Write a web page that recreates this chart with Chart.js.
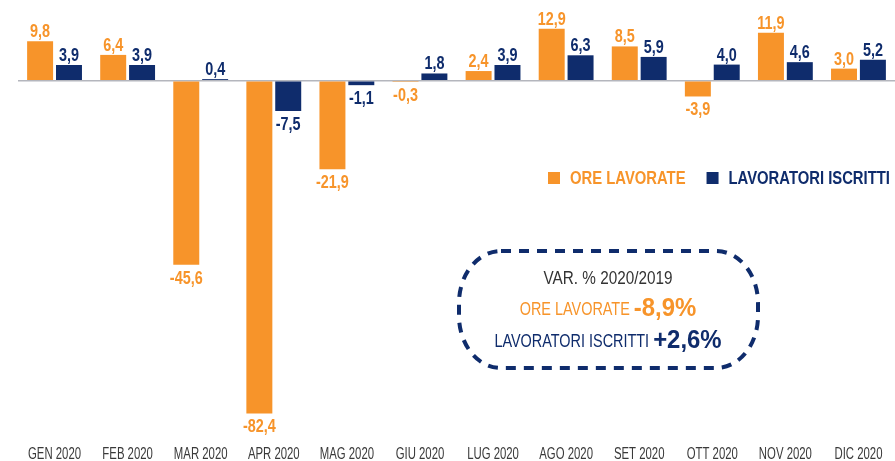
<!DOCTYPE html>
<html>
<head>
<meta charset="utf-8">
<script src="https://cdn.jsdelivr.net/npm/chart.js@4"></script>
<style>
  html, body { margin: 0; padding: 0; background: #fff; }
  #wrap { width: 895px; height: 461px; }
</style>
</head>
<body>
<div id="wrap"><canvas id="grafico" width="895" height="461"></canvas></div>
<script>
// dati
const mesi = ['GEN 2020', 'FEB 2020', 'MAR 2020', 'APR 2020', 'MAG 2020', 'GIU 2020',
              'LUG 2020', 'AGO 2020', 'SET 2020', 'OTT 2020', 'NOV 2020', 'DIC 2020'];
const oreLavorate = [9.8, 6.4, -45.6, -82.4, -21.9, -0.3, 2.4, 12.9, 8.5, -3.9, 11.9, 3.0];
const lavoratoriIscritti = [3.9, 3.9, 0.4, -7.5, -1.1, 1.8, 3.9, 6.3, 5.9, 4.0, 4.6, 5.2];
const nomiSerie = ['ORE LAVORATE', 'LAVORATORI ISCRITTI'];
const varTitolo = 'VAR. % 2020/2019';
const varTotali = ['-8,9%', '+2,6%'];

const ARANCIO = '#F7942A';
const BLU = '#0F2C6C';
const FONT = "'Liberation Sans', Arial, sans-serif";

function virgola(v) {
    return v.toFixed(1).replace('.', ',');
}

// testo "condensato": niente font narrow installato, si stringe in orizzontale
function testo(ctx, t, x, y, font, sx, align) {
    ctx.save();
    ctx.font = font;
    ctx.textAlign = align || 'center';
    ctx.translate(x, y);
    ctx.scale(sx, 1);
    ctx.fillText(t, 0, 0);
    ctx.restore();
}
function larghezza(ctx, t, font, sx) {
    ctx.save();
    ctx.font = font;
    const w = ctx.measureText(t).width * sx;
    ctx.restore();
    return w;
}

// etichette sopra / sotto le barre + etichette dell'asse x
const etichette = {
    id: 'etichette',
    afterDatasetsDraw(chart) {
        const ctx = chart.ctx;
        const f = 'bold 18px ' + FONT;
        ctx.save();
        ctx.textBaseline = 'alphabetic';
        chart.data.datasets.forEach(function (ds, i) {
            const meta = chart.getDatasetMeta(i);
            ctx.fillStyle = ds.backgroundColor;
            meta.data.forEach(function (bar, j) {
                const v = ds.data[j];
                if (v >= 0) {
                    testo(ctx, virgola(v), bar.x, bar.y - 4, f, 0.8);
                } else {
                    testo(ctx, virgola(v), bar.x, Math.max(bar.y, bar.base) + 19, f, 0.8);
                }
            });
        });

        // mesi sotto il grafico
        const sx = chart.scales.x;
        ctx.fillStyle = '#3a3a3a';
        ctx.textBaseline = 'middle';
        chart.data.labels.forEach(function (m, i) {
            testo(ctx, m, sx.getPixelForTick(i), 455, '16px ' + FONT, 0.71);
        });
        ctx.restore();
    }
};

// legenda e riquadro con le variazioni annue
const riquadro = {
    id: 'riquadro',
    afterDraw(chart) {
        const ctx = chart.ctx;
        const ds = chart.data.datasets;
        ctx.save();

        // legenda
        const fl = 'bold 19px ' + FONT;
        ctx.textBaseline = 'middle';
        let x = 548;
        ds.forEach(function (d) {
            ctx.fillStyle = d.backgroundColor;
            ctx.fillRect(x, 172, 12, 12);
            testo(ctx, d.label, x + 22, 179, fl, 0.78, 'left');
            x += 22 + larghezza(ctx, d.label, fl, 0.78) + 21;
        });

        // bordo tratteggiato (angoli ellittici)
        ctx.strokeStyle = BLU;
        ctx.lineWidth = 4;
        ctx.setLineDash([10, 8]);
        ctx.beginPath();
        ctx.roundRect(459, 251, 299, 117, [{ x: 42, y: 52 }]);
        ctx.stroke();
        ctx.setLineDash([]);

        const cx = 608;
        ctx.fillStyle = '#333';
        testo(ctx, varTitolo, cx, 279, '18px ' + FONT, 0.85);

        // righe: nome normale + valore in grassetto
        const fn = '18.5px ' + FONT, fv = 'bold 26px ' + FONT;
        [[0, 309], [1, 341]].forEach(function (r) {
            const i = r[0], y = r[1];
            const nome = ds[i].label + ' ';
            const w1 = larghezza(ctx, nome, fn, 0.78);
            const w2 = larghezza(ctx, varTotali[i], fv, 0.92);
            const x0 = cx - (w1 + w2) / 2;
            ctx.fillStyle = ds[i].backgroundColor;
            testo(ctx, nome, x0, y + 1, fn, 0.78, 'left');
            testo(ctx, varTotali[i], x0 + w1, y, fv, 0.92, 'left');
        });
        ctx.restore();
    }
};

new Chart(document.getElementById('grafico').getContext('2d'), {
    type: 'bar',
    data: {
        labels: mesi,
        datasets: [{
            label: nomiSerie[0],
            data: oreLavorate,
            backgroundColor: ARANCIO
        }, {
            label: nomiSerie[1],
            data: lavoratoriIscritti,
            backgroundColor: BLU
        }]
    },
    options: {
        responsive: false,
        animation: false,
        categoryPercentage: 0.79,
        barPercentage: 0.9,
        layout: { padding: { left: 18, right: 0, top: 0, bottom: 0 } },
        scales: {
            x: {
                grid: { display: false },
                border: { display: false },
                ticks: { display: false },
                afterFit: function (s) { s.height = 23; }
            },
            y: {
                min: -88.5,
                max: 20,
                ticks: { display: false, stepSize: 10 },
                border: { display: false },
                grid: {
                    drawTicks: false,
                    lineWidth: 1.5,
                    color: function (c) { return c.tick && c.tick.value === 0 ? '#b4b6bd' : 'rgba(0,0,0,0)'; }
                },
                afterFit: function (s) { s.width = 0; }
            }
        },
        plugins: {
            legend: { display: false },
            tooltip: { enabled: false }
        }
    },
    plugins: [etichette, riquadro]
});
</script>
</body>
</html>
